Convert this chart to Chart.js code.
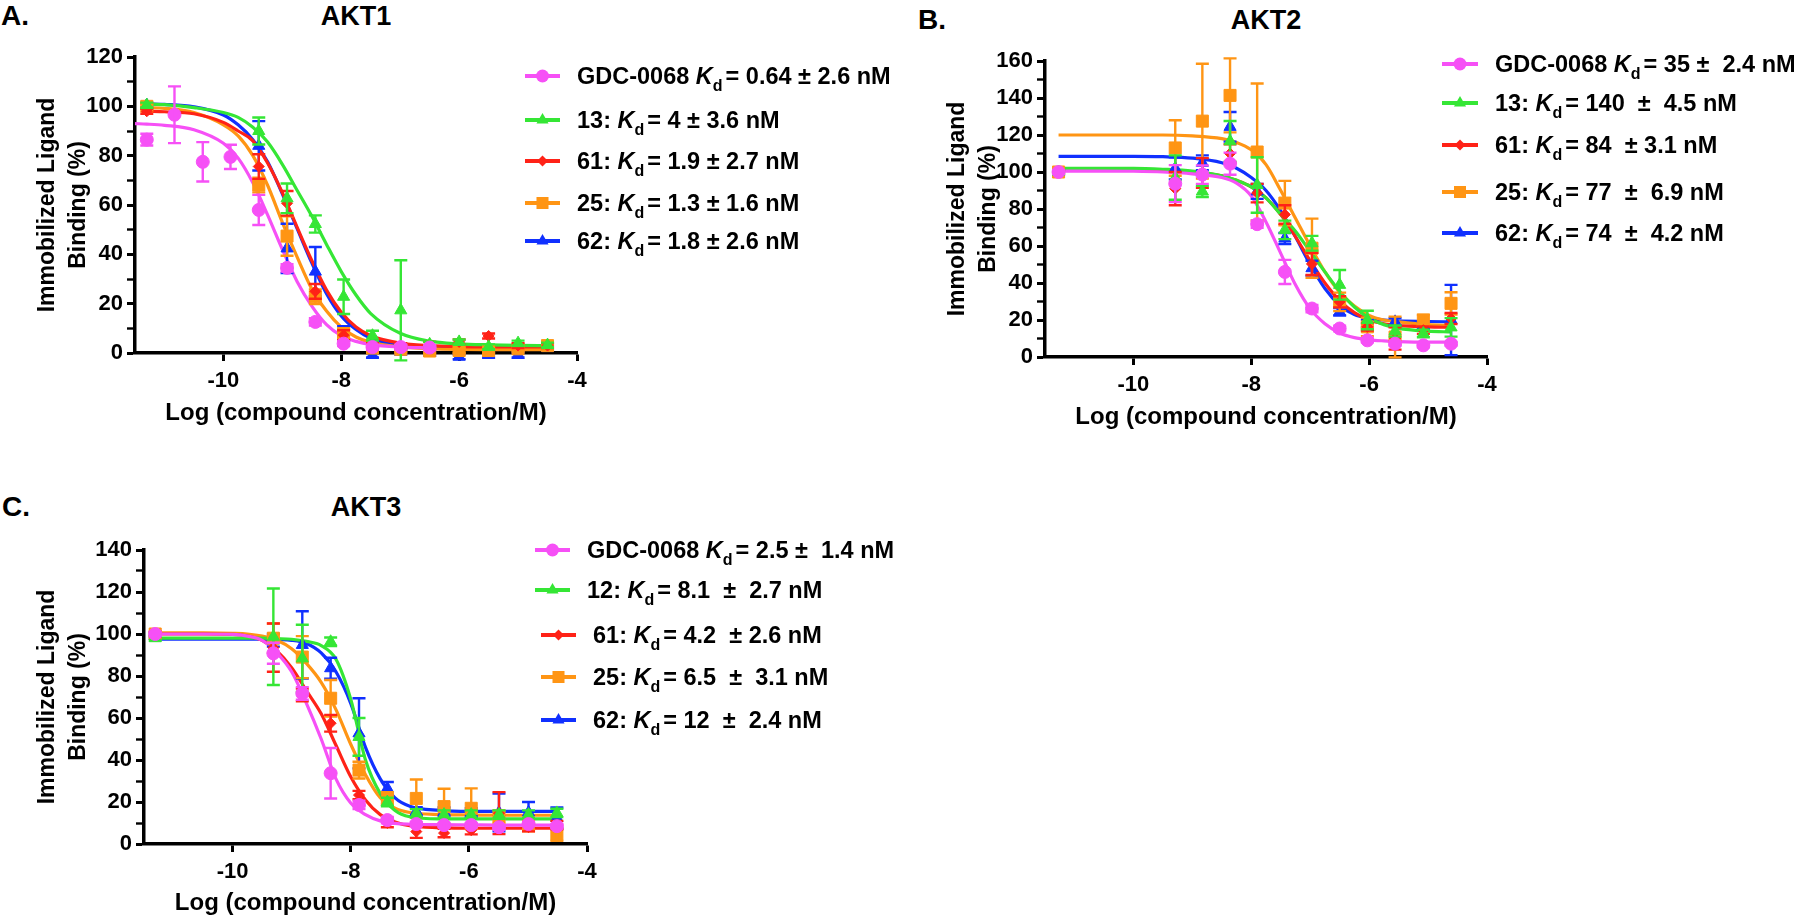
<!DOCTYPE html>
<html>
<head>
<meta charset="utf-8">
<script src="https://cdn.jsdelivr.net/npm/chart.js@4.4.1/dist/chart.umd.min.js"></script>
<style>
  html, body { margin: 0; padding: 0; background: #fff; }
  body { width: 1800px; height: 918px; position: relative; overflow: hidden;
         font-family: 'Liberation Sans', Arial, Helvetica, sans-serif; }
  canvas { position: absolute; }
  .lbl { position: absolute; font-weight: bold; font-size: 28px; line-height: 28px;
         transform: translateY(-50%); color: #000; white-space: nowrap; }
  .ttl { position: absolute; font-weight: bold; font-size: 27px; line-height: 27px;
         transform: translate(-50%, -50%); color: #000; white-space: nowrap; }
</style>
</head>
<body>
<div class="lbl" style="left:1px;top:16px">A.</div>
<div class="ttl" style="left:356px;top:16px">AKT1</div>
<div class="lbl" style="left:918px;top:20px">B.</div>
<div class="ttl" style="left:1266px;top:20px">AKT2</div>
<div class="lbl" style="left:2px;top:507px">C.</div>
<div class="ttl" style="left:366px;top:507px">AKT3</div>

<canvas id="akt1" width="900" height="440" style="left:0;top:0"></canvas>
<canvas id="akt2" width="890" height="440" style="left:910px;top:0"></canvas>
<canvas id="akt3" width="900" height="458" style="left:0;top:460px"></canvas>

<script>
// ---- shared axis labels ----
const xTicks = [-10, -8, -6, -4];
const xTitle = 'Log (compound concentration/M)';
const yTitle = ['Immobilized Ligand', 'Binding (%)'];

// ---- AKT1 ----
const akt1Conc  = [-11.3, -10.83, -10.35, -9.88, -9.4, -8.92, -8.44, -7.96, -7.47, -6.99, -6.5, -6.0, -5.5, -5.0, -4.5];
const akt1Gdc   = [86.5, 96.6, 77.5, 79.5, 58, 34.5, 12.6, 3.8, 2.4, 2.4, 2.2, null, null, null, null];
const akt1GdcSd = [2.4, 11.5, 8, 4.9, 6.1, 1.5, 1.5, 1, 1, 1, 1, null, null, null, null];
const akt1C13   = [100.5, null, null, null, 90, 62.7, 52.3, 22.8, 7, 17.3, 3.5, 4.5, 2.5, 4, 3.2];
const akt1C13Sd = [1, null, null, null, 5.5, 6, 3.5, 7, 2, 20.3, 1, 1, 1, 1, 1];
const akt1C61   = [98, null, null, null, 75.6, 60.7, 25, 7.2, 3, 3, 3.5, 4.5, 6.9, 3, 3];
const akt1C61Sd = [1, null, null, null, 5, 5, 3, 2, 1, 1, 1, 1, 1, 1, 1];
const akt1C25   = [100, null, null, null, 68.1, 47.4, 22.8, 7.9, 2, 1.5, 0.8, 1, 1, 1.7, 3];
const akt1C25Sd = [1, null, null, null, 3, 8, 3, 2, 1, 1, 1, 1, 1, 1, 1];
const akt1C62   = [100.5, null, null, null, 84, 42.4, 33, 7.9, -0.8, 0.5, 0, -1.5, -0.8, -0.8, 2];
const akt1C62Sd = [1, null, null, null, 10, 10, 10, 3, 1, 1, 1, 1, 1, 1, 1];

const akt1FitX   = [-11.5, -11.3, -11, -10.5, -10, -9.75, -9.5, -9.25, -9, -8.75, -8.5, -8.25, -8, -7.75, -7.5, -7, -6.5, -6, -5.5, -5, -4.5];
const akt1GdcFit = [93, 92.8, 92.3, 90.5, 85, 79, 69, 56, 42, 29, 19, 11.5, 7, 4.7, 3.4, 2.4, 2.1, null, null, null, null];
const akt1C13Fit = [null, 101, 100.7, 99.5, 97.5, 95.5, 91.5, 85.5, 76.5, 66, 55.5, 44, 33, 23.5, 16, 8, 4.8, 3.7, 3.3, 3.1, 3.0];
const akt1C61Fit = [null, 98, 97.8, 97, 93.5, 90, 86, 77, 65, 51, 37.5, 25.5, 16.5, 10.5, 7, 4, 3, 2.6, 2.5, 2.5, 2.5];
const akt1C25Fit = [null, 99.5, 99.2, 97.5, 92.5, 88, 80, 68, 53, 39, 26, 17, 10.5, 6.5, 4.3, 2.5, 1.8, 1.5, 1.4, 1.4, 1.4];
const akt1C62Fit = [null, 101, 100.8, 99.8, 96.5, 92.5, 86.5, 77.5, 64.5, 50.5, 36.5, 24, 15, 9.5, 6, 3, 2, 1.7, 1.5, 1.5, 1.5];

const akt1Names = ['GDC-0068 ', '13: ', '61: ', '25: ', '62: '];
const akt1Kd    = ['= 0.64 ± 2.6 nM', '= 4 ± 3.6 nM', '= 1.9 ± 2.7 nM', '= 1.3 ± 1.6 nM', '= 1.8 ± 2.6 nM'];

// ---- AKT2 ----
const akt2Conc  = [-11.27, -9.29, -8.83, -8.36, -7.9, -7.43, -6.97, -6.5, -6.03, -5.56, -5.08, -4.61];
const akt2Gdc   = [100, 93.7, 98.6, 104.5, 71.8, 46, 26.2, 15.4, 9, 7.2, 6.3, 7.2];
const akt2GdcSd = [1, 10, 5, 6, 2, 6.5, 2, 1.5, 1, 1, 1, 1];
const akt2C13   = [100, 97, 89.5, 116.6, 93, 68.7, 61.5, 39, 20, 14, 12.7, 16];
const akt2C13Sd = [1, 12, 3, 11, 15, 5, 4, 8, 5, 3, 2, 5];
const akt2C61   = [100, 91, 99.5, 110, 88.6, 77, 50.3, 29.8, 16.3, 10, 14.5, 20.8];
const akt2C61Sd = [1, 9, 8, 5, 5, 5, 6, 3, 2, 6, 2, 3];
const akt2C25   = [100, 113, 127.5, 141.4, 110.8, 83.2, 58.8, 29.8, 16.3, 10.8, 19.9, 29];
const akt2C25Sd = [1, 15, 31, 20, 37, 12, 16, 5, 5, 11, 3, 6];
const akt2C62   = [100, 102, 105, 124.4, 89.5, 64, 48, 24.4, 18, 19, 17, 20];
const akt2C62Sd = [1, 6, 4, 8, 4, 3, 4, 2, 2, 2, 2, 19];

const akt2FitX   = [-11.27, -10.5, -10, -9.5, -9, -8.5, -8.25, -8, -7.75, -7.5, -7.25, -7, -6.75, -6.5, -6.25, -6, -5.75, -5.5, -5, -4.61];
const akt2GdcFit = [100.5, 100.5, 100.4, 100, 99, 97, 94, 87, 73, 56, 39, 26, 18, 13, 10.5, 9.3, 8.7, 8.3, 8, 8];
const akt2C13Fit = [102, 102, 102, 101.5, 100.5, 98, 95.5, 92, 86, 77, 68, 57, 46, 35.5, 27, 21, 17.5, 15.5, 14, 13.5];
const akt2C61Fit = [101, 101, 101, 100.5, 100, 98, 95.5, 92, 86, 77, 65, 52, 40, 30.5, 24, 20, 18, 17, 16.3, 16];
const akt2C25Fit = [120, 120, 120, 120, 119.5, 118, 116, 112, 104, 90, 75, 60, 46, 35, 27.5, 22.5, 20, 19, 17.5, 17];
const akt2C62Fit = [108.5, 108.5, 108.5, 108.3, 107.5, 105, 102, 97, 90, 79, 65, 50, 37, 28, 23, 21, 20, 19.5, 19.2, 19];

const akt2Names = ['GDC-0068 ', '13: ', '61: ', '25: ', '62: '];
const akt2Kd    = ['= 35 ±  2.4 nM', '= 140  ±  4.5 nM', '= 84  ± 3.1 nM', '= 77  ±  6.9 nM', '= 74  ±  4.2 nM'];

// ---- AKT3 ----
const akt3Conc  = [-11.31, -9.31, -8.82, -8.34, -7.86, -7.38, -6.89, -6.42, -5.96, -5.49, -4.99, -4.51];
const akt3Gdc   = [100, 90.8, 71.7, 33.7, 18.6, 11.4, 9.5, 9, 9, 8, 9.5, 8.5];
const akt3GdcSd = [1, 5, 3, 12, 2, 1.5, 1, 1, 1, 1, 1, 1];
const akt3C12   = [98, 98.7, 88.4, 96.3, 51, 20, 14.6, 14, 14, 14, 14, 14.8];
const akt3C12Sd = [1, 23, 16, 2, 9, 2, 2, 2, 2, 2, 2, 2];
const akt3C61   = [100, 93.5, 71, 57.5, 23.3, 10, 5.9, 5.2, 6.6, 14.7, 8, 9];
const akt3C61Sd = [1, 11.5, 3, 4, 2, 2, 3, 2, 2, 10, 2, 2];
const akt3C25   = [100, 98, 89, 69.4, 35.2, 21.7, 21.7, 17.8, 17, 13, 9, 4.5];
const akt3C25Sd = [1, 7, 10, 8.7, 4, 3, 9, 8.5, 9.5, 3, 3, 3];
const akt3C62   = [99, 97, 94.8, 83.7, 52.7, 26.5, 15.5, 15.4, 15, 15, 15, 12.4];
const akt3C62Sd = [1, 3, 16, 5, 16.7, 3, 2, 2, 2, 9, 5, 5];

const akt3FitX   = [-11.31, -10.5, -10, -9.75, -9.5, -9.25, -9, -8.75, -8.5, -8.25, -8, -7.75, -7.5, -7.25, -7, -6.5, -6, -5.5, -5, -4.51];
const akt3GdcFit = [100, 100, 99.8, 99, 97, 91, 82, 67, 50, 31, 19.5, 14, 11, 9.8, 9.4, 9.2, 9.1, 9, 9, 9];
const akt3C12Fit = [98, 98, 98, 98, 98, 97.8, 97.5, 96.5, 94.5, 88, 69, 40, 24, 16, 13, 12, 12, 12, 12, 12];
const akt3C61Fit = [100, 100, 99.8, 99, 97, 92, 84, 73, 62, 47, 32, 21, 14, 10.5, 8.7, 7.8, 7.5, 7.5, 7.5, 7.5];
const akt3C25Fit = [100.5, 100.5, 100.3, 100, 99, 97, 93, 86, 77, 64, 47.5, 33, 22, 17, 15, 14, 13.8, 13.7, 13.7, 13.7];
const akt3C62Fit = [97.5, 97.5, 97.5, 97.5, 97.5, 97.3, 97, 95.5, 91, 82, 67, 46, 31, 22, 18, 16, 15.5, 15.5, 15.5, 15.5];

const akt3Names = ['GDC-0068 ', '12: ', '61: ', '25: ', '62: '];
const akt3Kd    = ['= 2.5 ±  1.4 nM', '= 8.1  ±  2.7 nM', '= 4.2  ± 2.6 nM', '= 6.5  ±  3.1 nM', '= 12  ±  2.4 nM'];

// ---- look ----
const FONT = "'Liberation Sans', Arial, Helvetica, sans-serif";
Chart.defaults.font.family = FONT;
Chart.defaults.font.weight = 'bold';
Chart.defaults.color = '#000';

// order: GDC-0068, 13/12, 61, 25, 62
const styles = [
    { color: '#f650f6', shape: 'circle',   r: 6.5 },
    { color: '#35e635', shape: 'triangle', r: 7 },
    { color: '#ff2217', shape: 'rectRot',  r: 5.5 },
    { color: '#ff9514', shape: 'rect',     r: 8.5 },
    { color: '#1030ff', shape: 'triangle', r: 7 },
];

function toPoints(conc, vals, sds) {
    const data = [], errors = [];
    conc.forEach((c, i) => {
        if (vals[i] === null) return;
        data.push({ x: c, y: vals[i] });
        errors.push(sds[i]);
    });
    return { data, errors };
}

function toLine(xs, ys) {
    const out = [];
    xs.forEach((x, i) => { if (ys[i] !== null) out.push({ x, y: ys[i] }); });
    return out;
}

function drawMarker(ctx, shape, r, x, y) {
    ctx.beginPath();
    if (shape === 'circle') {
        ctx.arc(x, y, r, 0, Math.PI * 2);
    } else if (shape === 'triangle') {
        for (let k = 0; k < 3; k++) {
            const a = k * 2 * Math.PI / 3;
            ctx.lineTo(x + Math.sin(a) * r, y - Math.cos(a) * r);
        }
        ctx.closePath();
    } else if (shape === 'rect') {
        const s = r * Math.SQRT1_2;
        ctx.rect(x - s, y - s, 2 * s, 2 * s);
    } else {
        ctx.moveTo(x, y - r); ctx.lineTo(x + r, y); ctx.lineTo(x, y + r); ctx.lineTo(x - r, y);
        ctx.closePath();
    }
    ctx.fill();
}

// SD bars, drawn right after their own dataset
const errorBars = {
    id: 'errorBars',
    afterDatasetDraw(chart, args) {
        const ds = chart.data.datasets[args.index];
        if (!ds.errors) return;
        const ctx = chart.ctx, ys = chart.scales.y;
        ctx.save();
        ctx.strokeStyle = ds.borderColor;
        ctx.lineWidth = 2.4;
        args.meta.data.forEach((el, j) => {
            const e = ds.errors[j];
            if (!e) return;
            const v = ds.data[j].y;
            const top = ys.getPixelForValue(v + e), bot = ys.getPixelForValue(v - e);
            ctx.beginPath();
            ctx.moveTo(el.x, top); ctx.lineTo(el.x, bot);
            ctx.moveTo(el.x - 6.5, top); ctx.lineTo(el.x + 6.5, top);
            ctx.moveTo(el.x - 6.5, bot); ctx.lineTo(el.x + 6.5, bot);
            ctx.stroke();
        });
        ctx.restore();
    }
};

// legend with italic K and subscript d
const kdLegend = {
    id: 'kdLegend',
    afterDraw(chart, args, opts) {
        const ctx = chart.ctx;
        const size = 23.5, sub = 16;
        ctx.save();
        ctx.textBaseline = 'alphabetic';
        opts.names.forEach((name, i) => {
            const st = styles[i];
            const dx = opts.shift ? opts.shift[i] : 0;
            const y = opts.rows[i];
            const x0 = opts.lineX[0] + dx, x1 = opts.lineX[1] + dx;
            ctx.strokeStyle = st.color;
            ctx.fillStyle = st.color;
            ctx.lineWidth = 4;
            ctx.beginPath(); ctx.moveTo(x0, y); ctx.lineTo(x1, y); ctx.stroke();
            drawMarker(ctx, st.shape, st.r, (x0 + x1) / 2, y);

            let x = opts.textX + dx;
            const base = y + 0.36 * size;
            ctx.fillStyle = '#000';
            ctx.font = `bold ${size}px ${FONT}`;
            ctx.fillText(name, x, base);
            x += ctx.measureText(name).width;
            ctx.font = `italic bold ${size}px ${FONT}`;
            ctx.fillText('K', x, base);
            x += ctx.measureText('K').width;
            ctx.font = `bold ${sub}px ${FONT}`;
            ctx.fillText('d', x, base + 7);
            x += ctx.measureText('d').width + 3;
            ctx.font = `bold ${size}px ${FONT}`;
            ctx.fillText(opts.kd[i], x, base);
        });
        ctx.restore();
    }
};

function createPanel(id, p) {
    const datasets = [];
    p.series.forEach((s, i) => {
        const st = styles[i];
        const pts = toPoints(p.conc, s[0], s[1]);
        datasets.push({
            type: 'scatter',
            data: pts.data,
            errors: pts.errors,
            showLine: false,
            pointStyle: st.shape,
            pointRadius: st.r,
            pointBackgroundColor: st.color,
            pointBorderColor: st.color,
            pointBorderWidth: 1,
            borderColor: st.color,
            clip: false,
            order: i,
        });
    });
    p.fits.forEach((f, i) => {
        datasets.push({
            type: 'line',
            data: toLine(p.fitX, f),
            borderColor: styles[i].color,
            borderWidth: 3.2,
            pointRadius: 0,
            fill: false,
            cubicInterpolationMode: 'monotone',
            clip: false,
            order: 10 + i,
        });
    });

    const yTicks = [];
    for (let v = 0; v <= p.yMax; v += 10) yTicks.push(v);

    return new Chart(document.getElementById(id), {
        type: 'scatter',
        data: { datasets },
        plugins: [errorBars, kdLegend],
        options: {
            responsive: false,
            animation: false,
            events: [],
            layout: { padding: { top: p.area.t, right: p.w - p.area.r, bottom: 0, left: 0 } },
            plugins: {
                legend: { display: false },
                tooltip: { enabled: false },
                kdLegend: p.legend,
            },
            scales: {
                x: {
                    type: 'linear',
                    min: -11.5,
                    max: -4,
                    afterBuildTicks: s => { s.ticks = xTicks.map(v => ({ value: v })); },
                    afterFit: s => { s.height = p.h - p.area.b; },
                    ticks: {
                        font: { size: 22, weight: 'bold' },
                        color: '#000',
                        padding: 7,
                        maxRotation: 0,
                        autoSkip: false,
                        callback: v => String(v),
                    },
                    grid: { drawOnChartArea: false, drawTicks: true, tickLength: 8, tickWidth: 3, tickColor: '#000' },
                    border: { display: true, color: '#000', width: 3.5 },
                    title: {
                        display: true,
                        text: xTitle,
                        color: '#000',
                        font: { size: 24, weight: 'bold', lineHeight: 1.2 },
                        padding: { top: 0, bottom: p.xTitlePad },
                    },
                },
                y: {
                    type: 'linear',
                    min: 0,
                    max: p.yMax,
                    afterBuildTicks: s => { s.ticks = yTicks.map(v => ({ value: v })); },
                    afterFit: s => { s.width = p.area.l; },
                    ticks: {
                        font: { size: 22, weight: 'bold' },
                        color: '#000',
                        padding: 4,
                        autoSkip: false,
                        callback: v => (v % 20 === 0 ? String(v) : ''),
                    },
                    grid: {
                        drawOnChartArea: false, drawTicks: true, tickLength: 8, tickColor: '#000',
                        tickWidth: c => (c.tick && c.tick.value % 20 === 0 ? 3 : 2.4),
                    },
                    border: { display: true, color: '#000', width: 3.5 },
                    title: {
                        display: true,
                        text: yTitle,
                        color: '#000',
                        font: { size: 23, weight: 'bold', lineHeight: 1.35 },
                        padding: { top: 32.5, bottom: 0 },
                    },
                },
            },
        },
    });
}

createPanel('akt1', {
    w: 900, h: 440, area: { l: 135, t: 57, r: 577, b: 353 }, yMax: 120, xTitlePad: 12.6,
    conc: akt1Conc,
    series: [[akt1Gdc, akt1GdcSd], [akt1C13, akt1C13Sd], [akt1C61, akt1C61Sd], [akt1C25, akt1C25Sd], [akt1C62, akt1C62Sd]],
    fitX: akt1FitX,
    fits: [akt1GdcFit, akt1C13Fit, akt1C61Fit, akt1C25Fit, akt1C62Fit],
    legend: { names: akt1Names, kd: akt1Kd, rows: [76, 120, 161, 203, 241], lineX: [525, 560], textX: 577 },
});

createPanel('akt2', {
    w: 890, h: 440, area: { l: 135, t: 61, r: 577, b: 357 }, yMax: 160, xTitlePad: 8.6,
    conc: akt2Conc,
    series: [[akt2Gdc, akt2GdcSd], [akt2C13, akt2C13Sd], [akt2C61, akt2C61Sd], [akt2C25, akt2C25Sd], [akt2C62, akt2C62Sd]],
    fitX: akt2FitX,
    fits: [akt2GdcFit, akt2C13Fit, akt2C61Fit, akt2C25Fit, akt2C62Fit],
    legend: { names: akt2Names, kd: akt2Kd, rows: [64, 103, 145, 192, 233], lineX: [532, 568], textX: 585 },
});

createPanel('akt3', {
    w: 900, h: 458, area: { l: 144, t: 90, r: 587, b: 384 }, yMax: 140, xTitlePad: 0,
    conc: akt3Conc,
    series: [[akt3Gdc, akt3GdcSd], [akt3C12, akt3C12Sd], [akt3C61, akt3C61Sd], [akt3C25, akt3C25Sd], [akt3C62, akt3C62Sd]],
    fitX: akt3FitX,
    fits: [akt3GdcFit, akt3C12Fit, akt3C61Fit, akt3C25Fit, akt3C62Fit],
    legend: { names: akt3Names, kd: akt3Kd, rows: [90, 130, 175, 217, 260], lineX: [535, 570], textX: 587, shift: [0, 0, 6, 6, 6] },
});
</script>
</body>
</html>
